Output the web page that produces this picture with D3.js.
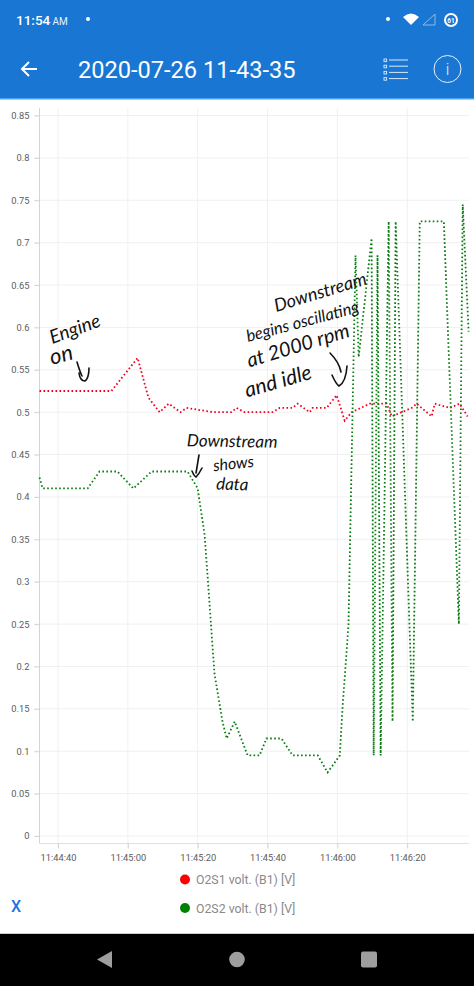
<!DOCTYPE html>
<html><head><meta charset="utf-8">
<script src="https://cdn.jsdelivr.net/npm/d3@7"></script>
<style>html,body{margin:0;padding:0;background:#fff;overflow:hidden}svg{display:block}text{font-family:Roboto,"Open Sans",sans-serif}</style>
</head><body><svg id="c" width="474" height="986"></svg>
<script>
const seriesNames=["O2S1 volt. (B1) [V]","O2S2 volt. (B1) [V]"];
const seriesColors=["#f0001e","#0a7d12"];
const legendColors=["#ff0000","#008000"];
// seconds after 11:44:00
const s1Times=[34.7,55.3,62.8,65.9,69.1,71.7,75.1,76.8,84.4,89.7,91.1,93.4,101.4,103.5,107.2,108.6,112.1,112.9,116.9,119.8,122.1,124.1,129.3,134.1,135.6,141.3,142.7,147,147.9,152.2,155,157.3];
const s1Values=[.525,.525,.564,.517,.5,.51,.5,.505,.5,.5,.505,.5,.5,.505,.505,.51,.5,.505,.505,.52,.49,.5,.51,.51,.495,.505,.51,.495,.51,.505,.51,.495];
const s2Times=[34.7,35.6,48.5,51.9,57,61.6,66.8,77.1,80,82,84.8,87.1,88.3,90.6,94.3,97.7,99.7,104,107.2,114.4,117.2,120.7,121.5,123.2,125.2,126.1,129.8,130.4,131.5,132.4,134.7,135.8,136.7,141.6,143.6,150.5,154.8,155.9,157.6];
const s2Values=[.423,.41,.41,.43,.43,.41,.43,.43,.41,.355,.192,.135,.115,.135,.095,.095,.115,.115,.095,.095,.075,.095,.152,.25,.685,.565,.705,.095,.685,.095,.725,.135,.725,.135,.725,.725,.25,.745,.595];
const yTicks=[0,.05,.1,.15,.2,.25,.3,.35,.4,.45,.5,.55,.6,.65,.7,.75,.8,.85];
const xTickSeconds=[40,60,80,100,120,140];
const xTickLabels=["11:44:40","11:45:00","11:45:20","11:45:40","11:46:00","11:46:20"];

const svg=d3.select("#c");
const x=d3.scaleLinear().domain([34.7,157.7]).range([39.5,469]);
const y=d3.scaleLinear().domain([0,.85]).range([836,115.5]);

// app bars
svg.append("rect").attr("width",474).attr("height",98).attr("fill","#1976d2");
svg.append("rect").attr("y",98).attr("width",474).attr("height",1.5).attr("fill","#4aa3f0");
svg.append("text").attr("x",16).attr("y",25).attr("fill","#fff").attr("font-size",13.5).attr("font-weight",500).text("11:54");
svg.append("text").attr("x",52.5).attr("y",25).attr("fill","#e8f2fc").attr("font-size",10).text("AM");
svg.append("circle").attr("cx",88).attr("cy",19).attr("r",2).attr("fill","#fff");
svg.append("circle").attr("cx",388).attr("cy",19).attr("r",2).attr("fill","#fff");
svg.append("path").attr("d","M403,17Q411,10 419,17L411,25Z").attr("fill","#fff");
svg.append("path").attr("d","M435,14V25H423Z").attr("fill","none").attr("stroke","#8fbbe8").attr("stroke-width",1);
svg.append("circle").attr("cx",451).attr("cy",20).attr("r",6).attr("fill","none").attr("stroke","#fff").attr("stroke-width",2);
svg.append("text").attr("x",451).attr("y",22.5).attr("text-anchor","middle").attr("fill","#fff").attr("font-size",6.5).attr("font-weight",700).text("61");
svg.append("path").attr("d","M37,69H22M29,62L22,69L29,76").attr("fill","none").attr("stroke","#fff").attr("stroke-width",2);
svg.append("text").attr("x",78).attr("y",77.5).attr("fill","#fff").attr("font-size",23.6).attr("font-weight",400).text("2020-07-26 11-43-35");
d3.range(4).forEach(i=>{
  svg.append("rect").attr("x",384).attr("y",60+i*6.2-1).attr("width",2.6).attr("height",2.6).attr("fill","none").attr("stroke","#dcebfa").attr("stroke-width",.9);
  svg.append("line").attr("x1",389).attr("x2",408).attr("y1",60+i*6.2).attr("y2",60+i*6.2).attr("stroke","#dcebfa").attr("stroke-width",1);
});
svg.append("circle").attr("cx",447.5).attr("cy",69).attr("r",13.5).attr("fill","none").attr("stroke","#e8f2fc").attr("stroke-width",1);
svg.append("text").attr("x",447.5).attr("y",75).attr("text-anchor","middle").attr("fill","#e8f2fc").attr("font-size",16).attr("font-weight",300).text("i");

// grid
svg.append("g").selectAll("line").data(yTicks).join("line").attr("x1",34).attr("x2",469).attr("y1",d=>y(d)).attr("y2",d=>y(d)).attr("stroke","#f0f0f0");
svg.append("g").selectAll("line").data(xTickSeconds).join("line").attr("x1",d=>x(d)).attr("x2",d=>x(d)).attr("y1",108).attr("y2",848).attr("stroke","#f0f0f0");

// axes
const axY=svg.append("g").attr("transform","translate(39.5,0)").call(d3.axisLeft(y).tickValues(yTicks).tickFormat(d=>d3.format("~g")(d)).tickSize(5).tickPadding(5));
axY.select(".domain").attr("d","M0,108V843.5").attr("stroke","#d4d4d4");
const axX=svg.append("g").attr("transform","translate(0,843.5)").call(d3.axisBottom(x).tickValues(xTickSeconds).tickFormat((d,i)=>xTickLabels[i]).tickSize(5).tickPadding(6));
axX.select(".domain").attr("d","M39.5,0H469").attr("stroke","#e0e0e0");
svg.selectAll(".tick line").attr("stroke","#d4d4d4");
svg.selectAll(".tick text").attr("fill","#5c5c5c").attr("font-size",9.3).attr("font-family","Roboto,sans-serif");

// series
const line=d3.line().x(d=>x(d[0])).y(d=>y(d[1]));
[[s1Times,s1Values],[s2Times,s2Values]].forEach(([t,v],i)=>{
  svg.append("path").attr("d",line(t.map((d,j)=>[d,v[j]]))).attr("fill","none")
    .attr("stroke",seriesColors[i]).attr("stroke-width",1.8).attr("stroke-dasharray","1.6 2.4");
});

// legend
seriesNames.forEach((n,i)=>{
  const ly=879.5+i*28.5;
  svg.append("circle").attr("cx",185).attr("cy",ly).attr("r",5).attr("fill",legendColors[i]);
  svg.append("text").attr("x",196).attr("y",ly+4.5).attr("fill","#8a8a8a").attr("font-size",12.3).text(n);
});
svg.append("text").attr("x",16).attr("y",912).attr("text-anchor","middle").attr("fill","#1a73e8").attr("font-size",16).attr("font-weight",500).text("X");

// nav bar
svg.append("rect").attr("y",933).attr("width",474).attr("height",53).attr("fill","#000");
svg.append("rect").attr("y",933).attr("width",474).attr("height",1).attr("fill","#ccc");
svg.append("path").attr("d","M97,959.5L112,951V968Z").attr("fill","#9e9e9e");
svg.append("circle").attr("cx",237).attr("cy",959.5).attr("r",7.8).attr("fill","#9e9e9e");
svg.append("rect").attr("x",361).attr("y",951.5).attr("width",16).attr("height",16).attr("rx",2).attr("fill","#9e9e9e");

// handwritten notes
const notes=[
 ["Engine",77,335,-20,19],["on",63,362,-15,22],
 ["Downstream",232,447,1,17],["shows",234,469,-6,16],["data",232,490,2,17],
 ["Downstream",322,298,-17,18],["begins oscillating",304,327,-15,16.5],["at 2000 rpm",300,352,-17,20],["and idle",280,388,-16,21]];
svg.append("g").selectAll("text").data(notes).join("text")
 .attr("transform",d=>`translate(${d[1]},${d[2]}) rotate(${d[3]})`).attr("text-anchor","middle")
 .attr("font-size",d=>d[4]).attr("font-style","italic").attr("fill","#111")
 .style("font-family","Lato,sans-serif").text(d=>d[0]);
["M77,362Q80,372 82,376 M79,373Q80,381 85,381Q89,378 89,368",
 "M199,455L196,473 M192,471Q194,476 196,477Q199,474 202,468",
 "M330,353Q339,362 341,372 M332,375Q336,384 339,386Q346,382 347,366"].forEach(d=>
 svg.append("path").attr("d",d).attr("fill","none").attr("stroke","#111").attr("stroke-width",1.6).attr("stroke-linecap","round"));
</script></body></html>
